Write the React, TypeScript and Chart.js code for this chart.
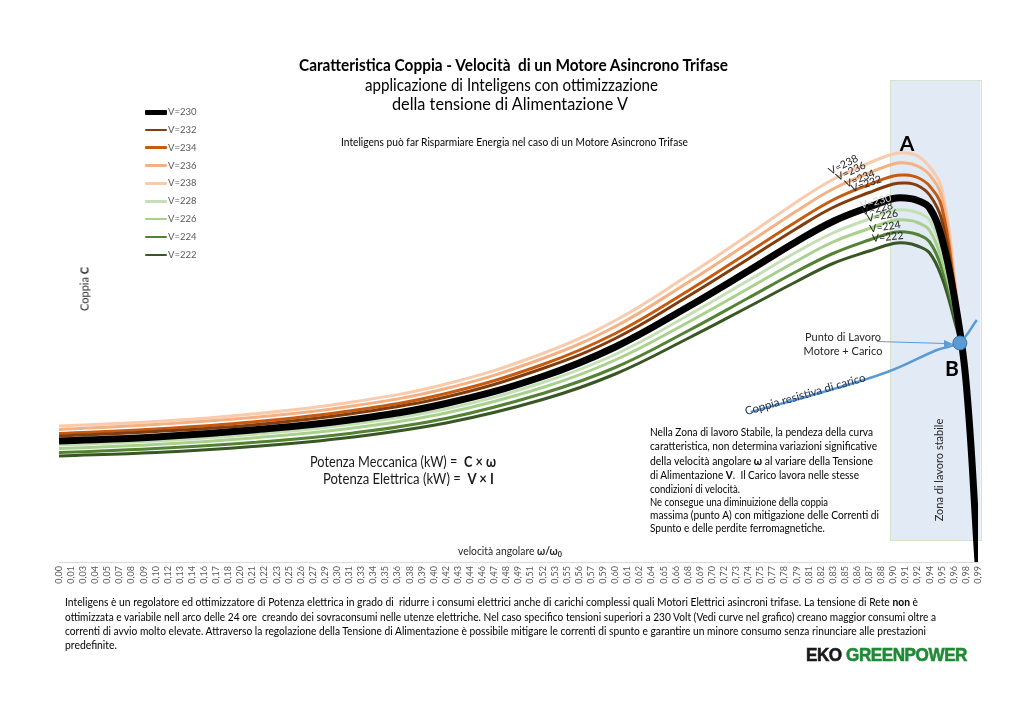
import React, { useEffect, useLayoutEffect, useRef } from "react";
import { Chart, registerables } from "chart.js";

Chart.register(...registerables);

const FONT = "Lato, 'Open Sans', 'Noto Sans', sans-serif";

// x axis category labels (ω/ω0)
const tickLabels = [
  "0,00","0,01","0,03","0,04","0,05","0,07","0,08","0,09","0,10","0,12",
  "0,13","0,14","0,16","0,17","0,18","0,20","0,21","0,22","0,23","0,25",
  "0,26","0,27","0,29","0,30","0,31","0,33","0,34","0,35","0,36","0,38",
  "0,39","0,40","0,42","0,43","0,44","0,46","0,47","0,48","0,49","0,51",
  "0,52","0,53","0,55","0,56","0,57","0,59","0,60","0,61","0,62","0,64",
  "0,65","0,66","0,68","0,69","0,70","0,72","0,73","0,74","0,75","0,77",
  "0,78","0,79","0,81","0,82","0,83","0,85","0,86","0,87","0,88","0,90",
  "0,91","0,92","0,94","0,95","0,96","0,98","0,99",
];

// category indices at which the curves were read
const sampleIdx = [0, 8, 16, 24, 32, 40, 46, 52, 57, 61, 64, 67, 69, 70, 71, 72, 73, 74, 75, 76];

// torque values (arbitrary units) for each supply voltage
const v238 = [27.2, 28.1, 29.6, 31.9, 35.6, 41.7, 48.3, 57.3, 65.4, 72.0, 76.5, 79.8, 81.6, 81.8, 81.2, 79.0, 74.8, 58.4, 34.3, 0];
const v236 = [26.5, 27.5, 28.9, 31.1, 34.7, 40.7, 47.1, 55.9, 63.8, 70.2, 74.6, 77.8, 79.6, 79.8, 79.2, 77.4, 73.0, 57.2, 34.9, 0];
const v234 = [25.7, 26.6, 28.0, 30.2, 33.7, 39.5, 45.7, 54.2, 61.9, 68.1, 72.4, 75.5, 77.2, 77.4, 76.9, 75.2, 71.0, 56.0, 35.4, 0];
const v232 = [25.2, 26.1, 27.4, 29.6, 33.0, 38.7, 44.7, 53.1, 60.6, 66.7, 70.9, 73.9, 75.6, 75.8, 75.3, 73.4, 68.5, 54.8, 35.9, 0];
const v230 = [24.2, 25.0, 26.4, 28.4, 31.7, 37.1, 43.0, 51.0, 58.2, 64.1, 68.1, 71.0, 72.7, 72.8, 72.3, 70.8, 64.8, 53.6, 36.4, 0];
const v228 = [23.4, 24.2, 25.5, 27.5, 30.6, 35.9, 41.5, 49.3, 56.3, 62.0, 65.8, 68.6, 70.3, 70.4, 69.9, 68.4, 62.3, 52.4, 36.9, 0];
const v226 = [22.7, 23.5, 24.8, 26.7, 29.8, 34.9, 40.4, 47.9, 54.7, 60.2, 64.0, 66.7, 68.3, 68.4, 67.9, 66.3, 60.5, 51.2, 37.4, 0];
const v224 = [21.9, 22.7, 23.9, 25.7, 28.7, 33.7, 38.9, 46.2, 52.8, 58.1, 61.7, 64.4, 65.9, 66.0, 65.5, 64.0, 58.8, 50.0, 37.9, 0];
const v222 = [21.2, 21.9, 23.1, 24.9, 27.8, 32.5, 37.6, 44.7, 51.0, 56.1, 59.7, 62.2, 63.7, 63.8, 63.2, 61.8, 57.0, 48.8, 38.5, 0];

// load (resisting torque) curve
const loadX = [57.2, 62.9, 68.5, 72.6, 74.5, 75.9];
const loadY = [30.0, 33.8, 38.0, 42.4, 44.0, 48.4];

// working point B
const pointBX = [74.5];
const pointBY = [43.8];

const series = [
  { label: "V=230", data: v230, color: "#000000", width: 7, legendW: 5 },
  { label: "V=232", data: v232, color: "#843C0C", width: 3, legendW: 2.5 },
  { label: "V=234", data: v234, color: "#C55A11", width: 3, legendW: 2.5 },
  { label: "V=236", data: v236, color: "#F4B183", width: 3, legendW: 2.5 },
  { label: "V=238", data: v238, color: "#F8CBAD", width: 3, legendW: 2.5 },
  { label: "V=228", data: v228, color: "#C5E0B4", width: 3, legendW: 2.5 },
  { label: "V=226", data: v226, color: "#A9D18E", width: 3, legendW: 2.5 },
  { label: "V=224", data: v224, color: "#548235", width: 3, legendW: 2.5 },
  { label: "V=222", data: v222, color: "#385723", width: 3, legendW: 2.5 },
];

// where the in-chart curve labels sit (category index) and their tilt
const curveLabels = [
  { label: "V=238", at: 65.2, rot: -27, off: 9 },
  { label: "V=236", at: 65.8, rot: -25, off: 9 },
  { label: "V=234", at: 66.5, rot: -22, off: 9 },
  { label: "V=232", at: 67.0, rot: -19, off: 9 },
  { label: "V=230", at: 67.6, rot: -14, off: 3 },
  { label: "V=228", at: 67.8, rot: -13, off: 7 },
  { label: "V=226", at: 68.2, rot: -10, off: 8 },
  { label: "V=224", at: 68.4, rot: -8, off: 8 },
  { label: "V=222", at: 68.6, rot: -6, off: 8 },
];

function valueAt(arr: number[], at: number) {
  for (let k = 0; k < sampleIdx.length - 1; k++) {
    const a = sampleIdx[k], b = sampleIdx[k + 1];
    if (at >= a && at <= b) {
      const t = (at - a) / (b - a);
      return arr[k] + (arr[k + 1] - arr[k]) * t;
    }
  }
  return arr[arr.length - 1];
}

function Fit({ x, y, w, size, weight = 400, color = "#000", family = FONT, extra = {}, children }: any) {
  const ref = useRef<HTMLDivElement>(null);
  useLayoutEffect(() => {
    const el = ref.current;
    if (!el) return;
    const apply = () => {
      el.style.transform = "translateY(-50%)";
      const nat = el.getBoundingClientRect().width;
      const s = nat > 0 ? w / nat : 1;
      el.style.transform = `translateY(-50%) scaleX(${s})`;
    };
    apply();
    const d: any = document;
    if (d.fonts && d.fonts.ready) d.fonts.ready.then(apply);
  }, [w]);
  return (
    <div
      ref={ref}
      style={{
        position: "absolute",
        left: x,
        top: y,
        whiteSpace: "nowrap",
        fontSize: size,
        fontWeight: weight,
        color,
        fontFamily: family,
        lineHeight: 1.2,
        transformOrigin: "0 50%",
        ...extra,
      }}
    >
      {children}
    </div>
  );
}

function Rot({ cx, cy, deg, size, color = "#000", weight = 400, children }: any) {
  return (
    <div
      style={{
        position: "absolute",
        left: cx,
        top: cy,
        transform: `translate(-50%, -50%) rotate(${deg}deg)`,
        whiteSpace: "nowrap",
        fontSize: size,
        fontWeight: weight,
        color,
        fontFamily: FONT,
        lineHeight: 1,
      }}
    >
      {children}
    </div>
  );
}

export default function App() {
  const canvasRef = useRef<HTMLCanvasElement>(null);

  useEffect(() => {
    const canvas = canvasRef.current;
    if (!canvas) return;
    Chart.defaults.font.family = FONT;

    const datasets: any[] = [
      {
        label: "B",
        data: pointBX.map((x, k) => ({ x, y: pointBY[k] })),
        showLine: false,
        pointRadius: 7,
        pointBackgroundColor: "#5B9BD5",
        pointBorderColor: "#41719C",
        pointBorderWidth: 1,
        order: -2,
      },
      {
        label: "Coppia resistiva di carico",
        data: loadX.map((x, k) => ({ x, y: loadY[k] })),
        borderColor: "#5B9BD5",
        borderWidth: 2.5,
        pointRadius: 0,
        tension: 0.4,
        order: -1,
        clip: false,
      },
      ...series.map((s) => ({
        label: s.label,
        data: sampleIdx.map((x, k) => ({ x, y: s.data[k] })),
        borderColor: s.color,
        borderWidth: s.width,
        pointRadius: 0,
        fill: false,
        tension: 0.4,
      })),
    ];

    const zonePlugin = {
      id: "zone",
      beforeDatasetsDraw(chart: any) {
        const { ctx, scales } = chart;
        const x1 = scales.x.getPixelForValue(68.7);
        const x2 = scales.x.getPixelForValue(76.2);
        const y1 = scales.y.getPixelForValue(96.4);
        const y2 = scales.y.getPixelForValue(4.4);
        ctx.save();
        ctx.fillStyle = "#e1eaf5";
        ctx.fillRect(x1, y1, x2 - x1, y2 - y1);
        ctx.strokeStyle = "#d3e6cc";
        ctx.lineWidth = 1;
        ctx.strokeRect(Math.round(x1) + 0.5, Math.round(y1) + 0.5, Math.round(x2 - x1), Math.round(y2 - y1));
        ctx.restore();
      },
    };

    const labelPlugin = {
      id: "curveLabels",
      afterDatasetsDraw(chart: any) {
        const { ctx, scales } = chart;
        ctx.save();
        ctx.font = `10.5px ${FONT}`;
        ctx.textAlign = "center";
        ctx.textBaseline = "middle";
        curveLabels.forEach((cl) => {
          const s = series.find((q) => q.label === cl.label);
          if (!s) return;
          const px = scales.x.getPixelForValue(cl.at);
          const py = scales.y.getPixelForValue(valueAt(s.data, cl.at));
          ctx.save();
          ctx.translate(px, py);
          ctx.rotate((cl.rot * Math.PI) / 180);
          ctx.fillStyle = cl.label === "V=230" ? "#d9d9d9" : "#262626";
          ctx.fillText(cl.label, 0, -cl.off);
          ctx.restore();
        });
        ctx.restore();
      },
    };

    const chart = new Chart(canvas, {
      type: "line",
      data: { datasets },
      options: {
        responsive: false,
        animation: false,
        layout: { padding: { left: 59, right: 46, top: 62, bottom: 136 } },
        events: [],
        scales: {
          x: {
            type: "linear",
            min: 0,
            max: 76,
            afterFit: (scale: any) => {
              scale.height = 26;
            },
            ticks: {
              stepSize: 1,
              autoSkip: false,
              maxRotation: 90,
              minRotation: 90,
              padding: 4,
              color: "#595959",
              font: { size: 9, family: FONT },
              callback: (v: any) => tickLabels[Math.round(Number(v))] ?? "",
            },
            grid: { display: true, color: "rgba(0,0,0,0)", drawTicks: false },
            border: { display: true, color: "#d9d9d9", width: 1 },
          },
          y: { display: false, min: 0, max: 100 },
        },
        plugins: {
          legend: { display: false },
          tooltip: { enabled: false },
          title: { display: false },
        },
      } as any,
      plugins: [zonePlugin, labelPlugin],
    });
    return () => chart.destroy();
  }, []);

  return (
    <div style={{ position: "fixed", left: 0, top: 0, width: 1024, height: 724, background: "#fff", overflow: "hidden", fontFamily: FONT }}>
      <canvas ref={canvasRef} width={1024} height={724} style={{ position: "absolute", left: 0, top: 0 }} />

      {/* title */}
      <Fit x={299} y={65} w={429} size={17} weight={700}>Caratteristica Coppia - Velocità&nbsp; di un Motore Asincrono Trifase</Fit>
      <Fit x={365} y={85} w={293} size={17}>applicazione di Inteligens con ottimizzazione</Fit>
      <Fit x={392} y={104} w={236} size={17}>della tensione di Alimentazione V</Fit>
      <Fit x={341} y={142} w={347} size={11}>Inteligens può far Risparmiare Energia nel caso di un Motore Asincrono Trifase</Fit>

      {/* legend */}
      {series.map((s, k) => (
        <div key={s.label} style={{ position: "absolute", left: 145, top: 112 + k * 17.85, height: 0 }}>
          <div style={{ position: "absolute", left: 0, top: -s.legendW / 2, width: 22, height: s.legendW, background: s.color, borderRadius: 1 }} />
          <div style={{ position: "absolute", left: 23, top: -6, fontSize: 9.5, lineHeight: "12px", color: "#595959", whiteSpace: "nowrap", fontFamily: FONT }}>{s.label}</div>
        </div>
      ))}

      {/* axis titles */}
      <Rot cx={84} cy={289} deg={-90} size={11} color="#262626">
        Coppia <b>C</b>
      </Rot>
      <Fit x={458} y={552} w={104} size={11} color="#262626">
        velocità angolare <b>ω/ω<sub style={{ fontSize: "0.7em", verticalAlign: "-0.25em" }}>0</sub></b>
      </Fit>

      {/* annotations */}
      <Rot cx={907} cy={142} deg={0} size={21} weight={700}>A</Rot>
      <Rot cx={952} cy={367} deg={0} size={21} weight={700}>B</Rot>
      <Rot cx={843} cy={336} deg={0} size={11} color="#262626">Punto di Lavoro</Rot>
      <Rot cx={843} cy={350} deg={0} size={11} color="#262626">Motore + Carico</Rot>
      <Rot cx={805} cy={394} deg={-16} size={11.5} color="#1f2d4a">Coppia resistiva di carico</Rot>
      <Rot cx={938} cy={470} deg={-90} size={11} color="#262626">Zona di lavoro stabile</Rot>
      <svg width={1024} height={724} style={{ position: "absolute", left: 0, top: 0, pointerEvents: "none" }}>
        <line x1={877} y1={341.5} x2={946} y2={343.5} stroke="#5B9BD5" strokeWidth={1} />
        <polygon points="953,344 944,340 944,347" fill="#5B9BD5" />
      </svg>

      {/* formulas */}
      <Fit x={310} y={462} w={186} size={14.5} color="#1a1a1a">
        Potenza Meccanica (kW) =&nbsp; <b>C × ω</b>
      </Fit>
      <Fit x={323} y={479} w={171} size={14.5} color="#1a1a1a">
        Potenza Elettrica (kW) =&nbsp; <b>V × I</b>
      </Fit>

      {/* right paragraph */}
      <Fit x={650} y={432} w={223} size={11}>Nella Zona di lavoro Stabile, la pendeza della curva</Fit>
      <Fit x={650} y={446} w={227} size={11}>caratteristica, non determina variazioni significative</Fit>
      <Fit x={650} y={461} w={223} size={11}>della velocità angolare <b>ω</b> al variare della Tensione</Fit>
      <Fit x={650} y={475} w={209} size={11}>di Alimentazione <b>V</b>.&nbsp; Il Carico lavora nelle stesse</Fit>
      <Fit x={650} y={489} w={90} size={11}>condizioni di velocità.</Fit>
      <Fit x={650} y={502} w={178} size={11}>Ne consegue una diminuizione della coppia</Fit>
      <Fit x={650} y={515} w={229} size={11}>massima (punto A) con mitigazione delle Correnti di</Fit>
      <Fit x={650} y={528} w={175} size={11}>Spunto e delle perdite ferromagnetiche.</Fit>

      {/* bottom paragraph */}
      <Fit x={65} y={602} w={853} size={11}>
        Inteligens è un regolatore ed ottimizzatore di Potenza elettrica in grado di&nbsp; ridurre i consumi elettrici anche di carichi complessi quali Motori Elettrici asincroni trifase. La tensione di Rete <b>non</b> è
      </Fit>
      <Fit x={65} y={617} w={871} size={11}>
        ottimizzata e variabile nell arco delle 24 ore&nbsp; creando dei sovraconsumi nelle utenze elettriche. Nel caso specifico tensioni superiori a 230 Volt (Vedi curve nel grafico) creano maggior consumi oltre a
      </Fit>
      <Fit x={65} y={631} w={861} size={11}>
        correnti di avvio molto elevate. Attraverso la regolazione della Tensione di Alimentazione è possibile mitigare le correnti di spunto e garantire un minore consumo senza rinunciare alle prestazioni
      </Fit>
      <Fit x={65} y={645} w={52} size={11}>predefinite.</Fit>

      {/* logo */}
      <Fit x={806} y={655} w={161} size={19} weight={700} family="'Liberation Sans', Arial, sans-serif" extra={{ WebkitTextStroke: "0.6px currentColor", letterSpacing: "-0.5px" }}>
        <span style={{ color: "#1a1a1a" }}>EKO</span> <span style={{ color: "#1f8a35" }}>GREENPOWER</span>
      </Fit>
    </div>
  );
}
